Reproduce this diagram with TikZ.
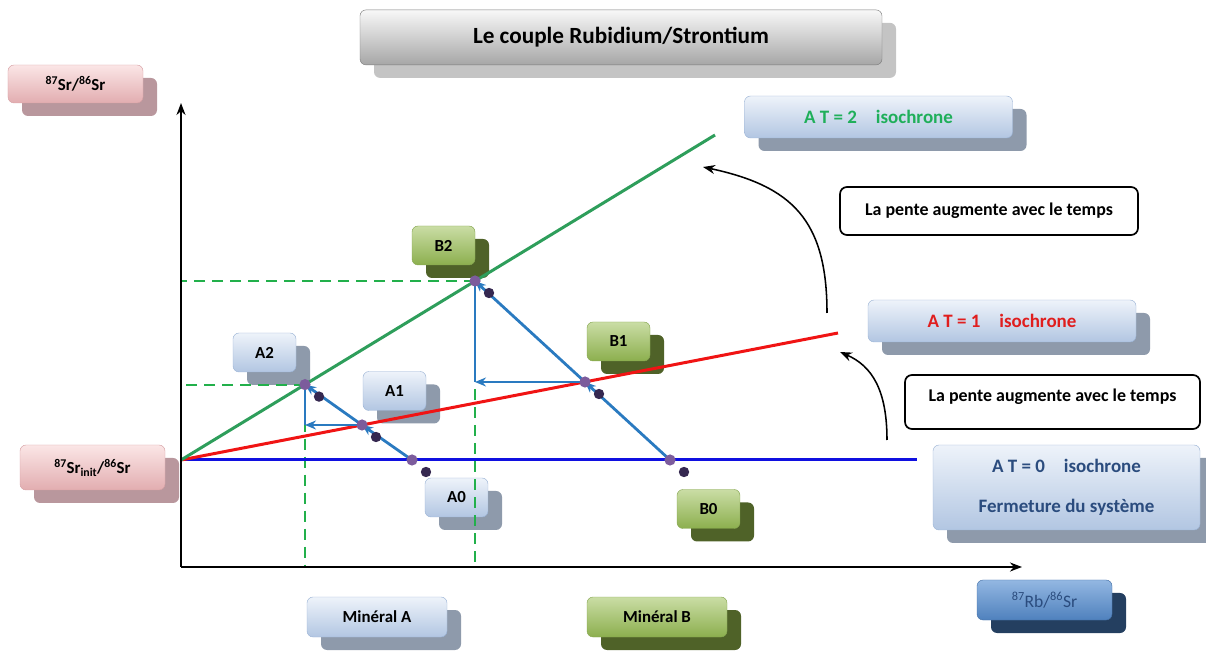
\documentclass[tikz,border=0pt]{standalone}
\usepackage{fontspec}
\setmainfont{Carlito}
\usepackage{tkz-euclide}
\usetikzlibrary{shadows,arrows.meta}

\definecolor{bluetop}{HTML}{EEF3FA}
\definecolor{bluebot}{HTML}{B2C6E2}
\definecolor{blueedge}{HTML}{9BB3D5}
\definecolor{blueshade}{HTML}{8E9AAB}
\definecolor{greentop}{HTML}{CADDA5}
\definecolor{greenbot}{HTML}{8CAF4E}
\definecolor{greenedge}{HTML}{86A651}
\definecolor{greenshade}{HTML}{4F6228}
\definecolor{pinktop}{HTML}{FBE6E6}
\definecolor{pinkbot}{HTML}{E2ADB0}
\definecolor{pinkedge}{HTML}{D6A0A4}
\definecolor{pinkshade}{HTML}{B9979D}
\definecolor{graytop}{HTML}{F8F8F8}
\definecolor{graybot}{HTML}{A6A6A6}
\definecolor{grayedge}{HTML}{7A7A7A}
\definecolor{grayshade}{HTML}{C4C4C4}
\definecolor{navytop}{HTML}{93B7E2}
\definecolor{navybot}{HTML}{4F81BD}
\definecolor{navyedge}{HTML}{4470A6}
\definecolor{navyshade}{HTML}{243F60}
\definecolor{isogreen}{HTML}{2E9E5B}
\definecolor{dashgreen}{HTML}{22B04B}
\definecolor{isored}{HTML}{F01414}
\definecolor{isoblue}{HTML}{1010E0}
\definecolor{arrowblue}{HTML}{2A7AC0}
\definecolor{ptpurple}{HTML}{7C5C9C}
\definecolor{ptdark}{HTML}{352850}
\definecolor{txtgreen}{HTML}{1FAF5A}
\definecolor{txtred}{HTML}{E01E1E}
\definecolor{txtnavy}{HTML}{2B4C7E}

\tikzset{
  shadowed/.style={drop shadow={shadow xshift=0.7cm, shadow yshift=-0.65cm, fill=#1, opacity=1}},
  boxbase/.style={rounded corners=0.3cm, line width=0.6pt, align=center,
    font=\fontsize{24}{29}\selectfont\bfseries},
  bluebox/.style={boxbase, draw=blueedge, top color=bluetop, bottom color=bluebot, shadowed=blueshade},
  greenbox/.style={boxbase, draw=greenedge, top color=greentop, bottom color=greenbot, shadowed=greenshade},
  pinkbox/.style={boxbase, draw=pinkedge, top color=pinktop, bottom color=pinkbot, shadowed=pinkshade,
    font=\fontsize{24}{29}\selectfont\bfseries},
  graybox/.style={boxbase, draw=grayedge, top color=graytop, bottom color=graybot, shadowed=grayshade},
  navybox/.style={boxbase, draw=navyedge, top color=navytop, bottom color=navybot, shadowed=navyshade,
    font=\fontsize{25}{30}\selectfont, text=txtnavy},
  ptbox/.style={minimum width=3.15cm, minimum height=1.95cm},
  minbox/.style={minimum width=7cm, minimum height=2cm},
  isobox/.style={minimum width=13.4cm, minimum height=2.1cm, font=\fontsize{27}{32}\selectfont\bfseries},
  pentebox/.style={draw, line width=2.4pt, rounded corners=0.35cm, fill=white,
    font=\fontsize{25.5}{30}\selectfont\bfseries},
  isoline/.style={line width=0.15cm},
  moveline/.style={arrowblue, line width=0.14cm},
  movearrow/.style={moveline, -{Stealth[length=0.55cm,width=0.45cm]}},
  projline/.style={dashgreen, line width=0.1cm, dash pattern=on 0.55cm off 0.35cm},
  bendarrow/.style={line width=2.2pt, -{Stealth[length=0.6cm,width=0.45cm]}},
}

\begin{document}
\begin{tikzpicture}
    \useasboundingbox (0,0) rectangle (60.3,32.5);
    % boxes
    \node[graybox, minimum width=26.1cm, minimum height=2.75cm,
          font=\fontsize{33}{40}\selectfont\bfseries] (title) at (31.05,30.63) {Le couple Rubidium/Strontium};
    \node[pinkbox, minimum width=6.75cm, minimum height=1.9cm] (ylab) at (3.775,28.3)
        {\textsuperscript{87}Sr/\textsuperscript{86}Sr};
    \node[pinkbox, minimum width=7.25cm, minimum height=2.25cm] (initlab) at (4.625,9.125)
        {\textsuperscript{87}Sr\textsubscript{init}/\textsuperscript{86}Sr};
    \node[navybox, minimum width=6.75cm, minimum height=2cm] (xlab) at (52.225,2.5)
        {\textsuperscript{87}Rb/\textsuperscript{86}Sr};
    \node[bluebox, minbox] (minA) at (18.85,1.65) {Minéral A};
    \node[greenbox, minbox] (minB) at (32.85,1.65) {Minéral B};
    \node[bluebox, isobox, text=txtgreen] (iso2) at (43.925,26.65) {A T = 2\quad isochrone};
    \node[bluebox, isobox, text=txtred] (iso1) at (50.1,16.45) {A T = 1\quad isochrone};
    \node[bluebox, minimum width=13.35cm, minimum height=4.25cm, text=txtnavy,
          font=\fontsize{27}{57}\selectfont\bfseries] (iso0) at (53.325,8.125)
        {A T = 0\quad isochrone\\Fermeture du système};
    \node[pentebox, minimum width=14.9cm, minimum height=2.4cm] (pente1) at (49.45,21.95)
        {La pente augmente avec le temps};
    \node[pentebox, minimum width=14.75cm, minimum height=2.7cm, text depth=0.65cm] (pente2) at (52.625,12.4)
        {La pente augmente avec le temps};
    \node[bluebox, ptbox] (labA2) at (13.225,14.875) {A2};
    \node[bluebox, ptbox] (labA1) at (19.725,12.95) {A1};
    \node[bluebox, ptbox] (labA0) at (22.825,7.625) {A0};
    \node[greenbox, ptbox] (labB2) at (22.175,20.225) {B2};
    \node[greenbox, ptbox] (labB1) at (30.925,15.425) {B1};
    \node[greenbox, ptbox] (labB0) at (35.425,7.05) {B0};
    % points
    \tkzDefPoint(9.05,4.15){Orig}
    \tkzDefPoint(9.05,27.35){Ytop}
    \tkzDefPoint(51.1,4.15){Xend}
    \tkzDefPoint(9.05,9.5){O}
    \tkzDefPoint(45.85,9.5){T0}
    \tkzDefPoint(41.9,15.85){T1}
    \tkzDefPoint(35.75,25.75){T2}
    \tkzDefPoint(20.6,9.5){A0}
    \tkzDefPoint(18.1,11.25){A1}
    \tkzDefPoint(15.25,13.27){A2}
    \tkzDefPoint(33.5,9.5){B0}
    \tkzDefPoint(29.25,13.40){B1}
    \tkzDefPoint(23.75,18.45){B2}
    \tkzDefPoint(15.25,11.25){CA}
    \tkzDefPoint(23.75,13.40){CB}
    \tkzDefPoint(9.05,13.27){YA}
    \tkzDefPoint(15.25,4.15){XA}
    \tkzDefPoint(9.05,18.45){YB}
    \tkzDefPoint(23.75,4.15){XB}
    \tkzDefPoint(41.35,16.85){S1}
    \tkzDefPoint(35.15,24.15){E1}
    \tkzDefPoint(44.35,10.5){S2}
    \tkzDefPoint(42.0,14.9){E2}
    % projections
    \draw[projline] (A2) -- (YA);
    \draw[projline] (A2) -- (XA);
    \draw[projline] (B2) -- (YB);
    \draw[projline] (B2) -- (XB);
    % isochrones
    \draw[isoline, isoblue] (O) -- (T0);
    \draw[isoline, isored] (O) -- (T1);
    \draw[isoline, isogreen] (O) -- (T2);
    % axes
    \draw[line width=0.1cm, -{Stealth[length=0.6cm,width=0.45cm]}] (Orig) -- (Ytop);
    \draw[line width=0.1cm, -{Stealth[length=0.6cm,width=0.45cm]}] (Orig) -- (Xend);
    % evolution of the minerals
    \draw[movearrow] (A0) -- (A1);
    \draw[movearrow] (A1) -- (A2);
    \draw[movearrow] (A1) -- (CA);
    \draw[moveline] (CA) -- (A2);
    \draw[movearrow] (B0) -- (B1);
    \draw[movearrow] (B1) -- (B2);
    \draw[movearrow] (B1) -- (CB);
    \draw[moveline] (CB) -- (B2);
    \foreach \p in {A0,A1,A2,B0,B1,B2}{
        \fill[ptdark] ([shift={(0.7,-0.6)}]\p) circle (0.26);
        \fill[ptpurple] (\p) circle (0.28);
    }
    % slope arrows
    \draw[bendarrow] (S1) .. controls (41.35,21.5) and (39.6,23.2) .. (E1);
    \draw[bendarrow] (S2) .. controls (44.35,13.0) and (43.6,14.2) .. (E2);
\end{tikzpicture}
\end{document}
